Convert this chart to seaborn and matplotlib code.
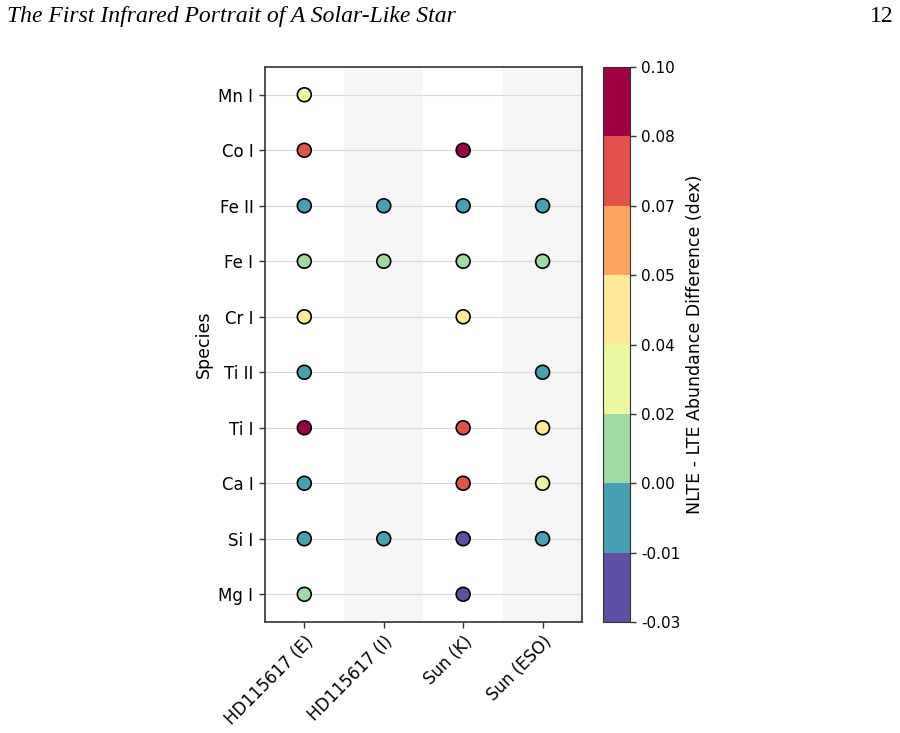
import matplotlib
matplotlib.use("Agg")
import matplotlib.pyplot as plt
import matplotlib.colors as mcolors
import numpy as np
import pandas as pd
import seaborn as sns

# categories
sources = ['HD115617 (E)', 'HD115617 (I)', 'Sun (K)', 'Sun (ESO)']
species = ['Mg I', 'Si I', 'Ca I', 'Ti I', 'Ti II', 'Cr I', 'Fe I', 'Fe II', 'Co I', 'Mn I']

# NLTE - LTE differences per source (nan = no value), in species order
hd_e = [0.010, -0.005, -0.005, 0.090, -0.005, 0.040, 0.010, -0.005, 0.075, 0.030]
hd_i = [np.nan, -0.005, np.nan, np.nan, np.nan, np.nan, 0.010, -0.005, np.nan, np.nan]
sun_k = [-0.020, -0.020, 0.075, 0.075, np.nan, 0.040, 0.010, -0.005, 0.090, np.nan]
sun_eso = [np.nan, -0.005, 0.030, 0.040, -0.005, np.nan, 0.010, -0.005, np.nan, np.nan]

cbar_labels = ['-0.03', '-0.01', '0.00', '0.02', '0.04', '0.05', '0.07', '0.08', '0.10']

wide = pd.DataFrame({'Species': species, sources[0]: hd_e, sources[1]: hd_i,
                     sources[2]: sun_k, sources[3]: sun_eso})
df = wide.melt(id_vars='Species', var_name='Source', value_name='diff').dropna()
df['x'] = df['Source'].map({s: i for i, s in enumerate(sources)})
df['y'] = df['Species'].map({s: i for i, s in enumerate(species)})

bounds = np.linspace(-0.03, 0.10, 9)
cmap = matplotlib.colormaps['Spectral_r'].resampled(8)
norm = mcolors.BoundaryNorm(bounds, cmap.N)

fig = plt.figure(figsize=(9, 7.33), dpi=100)
ax = fig.add_axes([0.294, 0.1514, 0.353, 0.7572])
cax = fig.add_axes([0.670, 0.1514, 0.030, 0.7572])

for i in range(1, len(sources), 2):
    ax.axvspan(i - 0.5, i + 0.5, color='#f6f6f6', zorder=0, lw=0)
for j in range(len(species)):
    ax.axhline(j, color='#d9d9d9', lw=0.8, zorder=1)

sns.scatterplot(data=df, x='x', y='y', hue='diff', palette=cmap, hue_norm=norm,
                s=100, edgecolor='black', linewidth=1.2, legend=False, zorder=3, ax=ax)

ax.set_xlim(-0.5, len(sources) - 0.5)
ax.set_ylim(-0.5, len(species) - 0.5)
ax.set_xticks(range(len(sources)))
ax.set_xticklabels(sources, rotation=45, ha='right', rotation_mode='anchor', fontsize=12)
ax.set_yticks(range(len(species)))
ax.set_yticklabels(species, fontsize=12)
ax.tick_params(length=4.5, width=1.0, color='#333333')
ax.set_xlabel('')
ax.set_ylabel('Species', fontsize=12.5)
for sp in ax.spines.values():
    sp.set_color('#333333')
    sp.set_linewidth(1.2)

sm = plt.cm.ScalarMappable(norm=norm, cmap=cmap)
cb = fig.colorbar(sm, cax=cax, ticks=bounds)
cb.ax.set_yticklabels(cbar_labels, fontsize=11)
cb.ax.tick_params(length=4.5, width=1.0, color='#333333')
cb.set_label('NLTE - LTE Abundance Difference (dex)', fontsize=12.5)
cb.outline.set_edgecolor('#333333')

fig.text(0.008, 0.977, 'The First Infrared Portrait of A Solar-Like Star',
         family='Liberation Serif', style='italic', fontsize=17, va='center', ha='left')
fig.text(0.993, 0.977, '12', family='Liberation Serif', fontsize=17, va='center', ha='right')

fig.savefig('out.png', dpi=100)
